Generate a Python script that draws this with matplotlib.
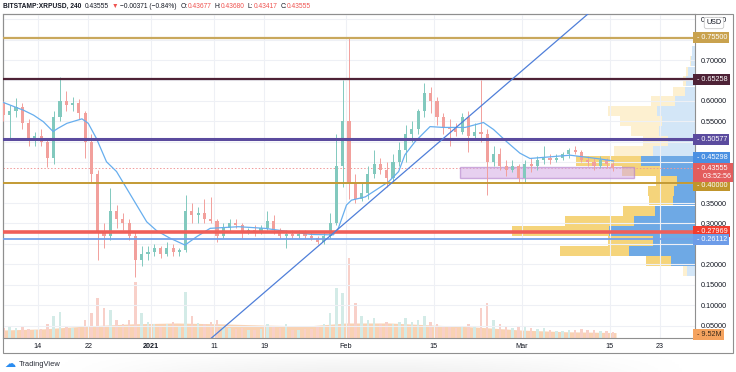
import matplotlib
matplotlib.use('Agg')
import matplotlib.pyplot as plt
import matplotlib.dates as mdates
import matplotlib.transforms as mtransforms
from matplotlib.patches import Rectangle
import numpy as np
import pandas as pd

plt.rcParams['font.family'] = ['Liberation Sans', 'DejaVu Sans']

# daily candles, Dec 8 2020 .. Mar 15 2021
days = pd.date_range('2020-12-08', '2021-03-15', freq='D')
opens = [0.595, 0.565, 0.575, 0.585, 0.545, 0.505, 0.515, 0.500, 0.460, 0.560, 0.600, 0.590,
         0.595, 0.570, 0.500, 0.420, 0.280, 0.270, 0.330, 0.310, 0.300, 0.270, 0.210, 0.225,
         # jan
         0.230, 0.240, 0.225, 0.240, 0.230, 0.235, 0.330, 0.320, 0.325, 0.310, 0.305, 0.270,
         0.290, 0.300, 0.295, 0.280, 0.285, 0.280, 0.290, 0.305, 0.285, 0.270, 0.275, 0.270,
         0.275, 0.270, 0.265, 0.255, 0.270, 0.300, 0.440,
         # feb
         0.550, 0.400, 0.360, 0.375, 0.420, 0.445, 0.430, 0.410, 0.450, 0.480, 0.520, 0.530,
         0.575, 0.620, 0.600, 0.560, 0.535, 0.530, 0.525, 0.560, 0.515, 0.525, 0.520, 0.450,
         0.470, 0.440, 0.430, 0.440,
         # mar
         0.410, 0.445, 0.440, 0.455, 0.460, 0.455, 0.460, 0.470, 0.480, 0.475, 0.455, 0.450,
         0.440, 0.455, 0.445]
highs = [0.600, 0.590, 0.607, 0.595, 0.555, 0.525, 0.530, 0.510, 0.575, 0.659, 0.625, 0.610,
         0.605, 0.575, 0.520, 0.430, 0.300, 0.387, 0.345, 0.325, 0.310, 0.280, 0.245, 0.245,
         0.250, 0.245, 0.255, 0.250, 0.240, 0.370, 0.350, 0.340, 0.360, 0.365, 0.310, 0.300,
         0.310, 0.310, 0.300, 0.290, 0.295, 0.295, 0.330, 0.320, 0.290, 0.285, 0.285, 0.285,
         0.285, 0.280, 0.270, 0.280, 0.325, 0.520, 0.650,
         0.757, 0.420, 0.400, 0.440, 0.480, 0.460, 0.450, 0.470, 0.500, 0.540, 0.550, 0.580,
         0.643, 0.635, 0.610, 0.570, 0.555, 0.545, 0.570, 0.575, 0.545, 0.651, 0.530, 0.490,
         0.485, 0.455, 0.455, 0.445,
         0.455, 0.460, 0.465, 0.490, 0.470, 0.470, 0.475, 0.485, 0.490, 0.480, 0.465, 0.460,
         0.465, 0.460, 0.450]
lows = [0.550, 0.505, 0.560, 0.530, 0.490, 0.490, 0.490, 0.438, 0.445, 0.550, 0.575, 0.575,
        0.555, 0.460, 0.400, 0.210, 0.240, 0.260, 0.290, 0.285, 0.260, 0.170, 0.195, 0.210,
        0.220, 0.215, 0.220, 0.220, 0.220, 0.230, 0.300, 0.300, 0.300, 0.300, 0.255, 0.265,
        0.280, 0.290, 0.265, 0.275, 0.270, 0.275, 0.285, 0.275, 0.265, 0.240, 0.265, 0.265,
        0.265, 0.260, 0.250, 0.250, 0.265, 0.295, 0.390,
        0.360, 0.350, 0.355, 0.360, 0.410, 0.420, 0.390, 0.400, 0.440, 0.450, 0.500, 0.520,
        0.560, 0.570, 0.540, 0.520, 0.490, 0.515, 0.520, 0.476, 0.510, 0.500, 0.370, 0.440,
        0.430, 0.415, 0.425, 0.398,
        0.400, 0.425, 0.430, 0.445, 0.445, 0.450, 0.455, 0.460, 0.470, 0.450, 0.440, 0.430,
        0.435, 0.435, 0.428]
closes = [0.565, 0.575, 0.585, 0.545, 0.505, 0.515, 0.500, 0.460, 0.560, 0.600, 0.590, 0.595,
          0.570, 0.500, 0.420, 0.280, 0.270, 0.330, 0.310, 0.300, 0.270, 0.210, 0.225, 0.230,
          0.240, 0.225, 0.240, 0.230, 0.235, 0.330, 0.320, 0.325, 0.310, 0.305, 0.270, 0.290,
          0.300, 0.295, 0.280, 0.285, 0.280, 0.290, 0.305, 0.285, 0.270, 0.275, 0.270, 0.275,
          0.270, 0.265, 0.255, 0.270, 0.300, 0.440, 0.550,
          0.400, 0.360, 0.375, 0.420, 0.445, 0.430, 0.410, 0.450, 0.480, 0.520, 0.530, 0.575,
          0.620, 0.600, 0.560, 0.535, 0.530, 0.525, 0.560, 0.515, 0.525, 0.520, 0.450, 0.470,
          0.440, 0.430, 0.440, 0.410,
          0.445, 0.440, 0.455, 0.460, 0.455, 0.460, 0.470, 0.480, 0.475, 0.455, 0.450, 0.440,
          0.455, 0.445, 0.43555]
# volume (millions)
volumes = [24, 29, 24, 29, 22, 19, 22, 34, 53, 62, 29, 24, 24, 43, 60, 96, 72, 67, 43, 34, 43, 134, 60, 38,
           34, 29, 34, 38, 29, 110, 53, 36, 34, 38, 43, 29, 24, 22, 24, 19, 19, 22, 34, 29, 24, 34,
           19, 19, 22, 22, 29, 34, 60, 120, 108,
           192, 84, 53, 43, 48, 34, 38, 34, 38, 48, 38, 43, 53, 38, 34, 29, 29, 24, 29, 34, 29, 72,
           84, 43, 34, 29, 24, 29,
           29, 24, 22, 24, 19, 17, 17, 19, 19, 22, 19, 19, 17, 17, 14]
vol_ma_days = [-6, 1, 8, 15, 22, 29, 36, 43, 49, 56, 63, 70, 77, 84, 92]
vol_ma = [19, 22, 29, 34, 36, 34, 31, 29, 36, 36, 31, 26, 19, 15, 13]

# moving average (days after Dec 14 2020, price)
ma_days = [-5.5, -2.3, -0.7, 0.85, 2.4, 3.2, 4.6, 7.0, 8.0, 9.3, 10.9, 12.5, 14.1, 15.7, 17.3,
           18.9, 21.0, 23.4, 25.3, 27.4, 31.9, 36.1, 39.9, 43.6, 47.0, 47.8, 49.1, 49.9, 52.1,
           55.8, 57.4, 58.4, 60.0, 62.4, 64.5, 68.0, 70.9, 72.5, 74.6, 76.7, 78.3, 81.5, 84.7,
           88.9, 91.6]
ma_vals = [0.596, 0.577, 0.565, 0.549, 0.525, 0.533, 0.545, 0.556, 0.545, 0.508, 0.451, 0.427,
           0.386, 0.345, 0.304, 0.282, 0.264, 0.247, 0.268, 0.288, 0.292, 0.288, 0.280, 0.273,
           0.272, 0.288, 0.345, 0.357, 0.365, 0.402, 0.427, 0.468, 0.500, 0.537, 0.535, 0.535,
           0.547, 0.530, 0.500, 0.472, 0.459, 0.463, 0.467, 0.459, 0.453]

# visible range volume profile (row price, up volume, down volume)
prof_prices = [0.722, 0.6976, 0.673, 0.6486, 0.624, 0.5997, 0.5752, 0.5507, 0.5262, 0.5018,
               0.4773, 0.4528, 0.4283, 0.4039, 0.3794, 0.355, 0.3304, 0.306, 0.2815, 0.257,
               0.2326, 0.208, 0.1836]
prof_up = [3, 4, 7, 9, 10, 20, 38, 33, 36, 27, 42, 54, 35, 18, 21, 22, 40, 61, 86, 42, 66, 24, 8]
prof_down = [0, 1, 2, 3, 12, 24, 49, 42, 28, 25, 39, 65, 38, 21, 26, 24, 32, 69, 97, 45, 69, 25, 4]
value_area = (0.196, 0.465)

# drawings
levels = [0.755, 0.65258, 0.50577, 0.40, 0.27969, 0.26112]
level_colors = ['#c9a85c', '#4e2236', '#5b4b9e', '#c39a34', '#ef5f5a', '#74a1ea']
level_widths = [1.6, 1.6, 2.2, 1.4, 2.6, 1.3]
trend_days = [28.17, 87.33]
trend_prices = [0.027, 0.810]
zone_days = [67.2, 94.9]
zone_prices = [0.4124, 0.4389]
last_price = 0.43555

fig = plt.figure(figsize=(7.36, 3.72), dpi=100)
fig.patch.set_facecolor('white')

# soft page shadow under the chart frame
sh = fig.add_axes([40 / 736, 0, 660 / 736, 18 / 372], zorder=0)
gx = np.linspace(-1, 1, 200)
gy = np.linspace(0, 1, 30)
shade = np.clip(1 - gx[None, :] ** 2, 0, 1) ** 1.5 * (1 - gy[:, None]) ** 0.7
sh.imshow(shade, cmap='Greys', vmin=0, vmax=9, aspect='auto', origin='lower', extent=(0, 1, 0, 1))
sh.axis('off')

ax = fig.add_axes([3 / 736, 34 / 372, 692 / 736, 324 / 372])
ax_v = ax.twinx()
ax_p = ax.twiny()
for a, z in ((ax_p, 1), (ax_v, 2), (ax, 3)):
    a.set_zorder(z)
    a.patch.set_visible(False)

d0 = mdates.date2num(pd.Timestamp('2020-12-14'))
x = mdates.date2num(days) + 0.5
o, h, l, c = map(np.array, (opens, highs, lows, closes))
up = c >= o
col = np.where(up, '#82c9be', '#f2a09c')

# volume pane
ax_v.fill_between(d0 + np.array(vol_ma_days), vol_ma, color='#f9d2b3', lw=0, zorder=1)
ax_v.bar(x, volumes, width=0.4, color=np.where(up, '#d3ebe7', '#f8d0c9'), zorder=2)
ax_v.set_ylim(0, 777.6)
ax_v.axis('off')

# volume profile
ax_p.set_xlim(692, 0)
pp = np.array(prof_prices)
in_va = (pp > value_area[0]) & (pp < value_area[1])
ax_p.barh(pp, prof_up, height=0.0222, left=0, color=np.where(in_va, '#6ea9e5', '#d3e6f7'), lw=0)
ax_p.barh(pp, prof_down, height=0.0222, left=prof_up, color=np.where(in_va, '#f5d47b', '#fdf0d0'), lw=0)
ax_p.axis('off')

# main price pane
ax.vlines(x, l, h, colors=col, lw=0.7, zorder=3)
ax.bar(x, np.maximum(np.abs(c - o), 0.002), bottom=np.minimum(o, c), width=0.5, color=col, zorder=3)
ax.plot(d0 + np.array(ma_days), ma_vals, color='#67aeee', lw=0.9, zorder=4)

for lv, lc, lw in zip(levels, level_colors, level_widths):
    ax.axhline(lv, color=lc, lw=lw, zorder=5)
ax.axhline(last_price, color='#f19a9a', lw=0.7, ls=(0, (1.5, 2)), zorder=2)
ax.axline((d0 + trend_days[0], trend_prices[0]), (d0 + trend_days[1], trend_prices[1]),
          color='#4f7fd9', lw=0.9, zorder=5)
ax.add_patch(Rectangle((d0 + zone_days[0], zone_prices[0]), zone_days[1] - zone_days[0],
                       zone_prices[1] - zone_prices[0], facecolor='#d7b2e6', alpha=0.6,
                       edgecolor='#b27fcb', lw=1, zorder=2))

ax.set_xlim(d0 - 5.57, d0 + 104.57)
ax.set_ylim(0.0196, 0.8126)

# axes, grid
tick_dates = ['2020-12-14', '2020-12-22', '2021-01-01', '2021-01-11', '2021-01-19',
              '2021-02-01', '2021-02-15', '2021-03-01', '2021-03-15', '2021-03-23']
tick_labels = ['14', '22', '2021', '11', '19', 'Feb', '15', 'Mar', '15', '23']
ax.set_xticks(mdates.date2num(pd.to_datetime(tick_dates)))
ax.set_xticklabels(tick_labels)
ax.get_xticklabels()[2].set_fontweight('bold')
y_ticks = np.round(np.arange(0.05, 0.81, 0.05), 2)
hidden = [0.25, 0.40, 0.45, 0.50, 0.65, 0.75]
ax.set_yticks(y_ticks)
ax.set_yticklabels(['' if t in hidden else f'{t:.5f}' for t in y_ticks])
ax.yaxis.tick_right()
ax.tick_params(axis='both', length=0, labelsize=5.2, colors='#131722')
ax.tick_params(axis='y', pad=3.8)
ax.tick_params(axis='x', pad=3.5)
ax.grid(True, color='#eef0f5', lw=0.8, zorder=0)
for s in ax.spines.values():
    s.set_color('#8f8f8f')
    s.set_linewidth(0.8)

# price scale labels (label position, text, colours); labels nudged apart like on the scale
tr = mtransforms.blended_transform_factory(ax.transAxes, ax.transData)
boxes = [(0.755, '0.75500', '#c9a24e'), (0.65258, '0.65258', '#4e2236'),
         (0.50577, '0.50577', '#5b4b9e'), (0.4614, '0.45298', '#4a90e2'),
         (0.3935, '0.40000', '#c0952c'), (0.27969, '0.27969', '#f23c2e'),
         (0.26112, '0.26112', '#6d9ce8')]
for val, txt, bg in boxes:
    ax.text(1.0, val, ' - ' + txt, transform=tr, fontsize=5.2, color='white', va='center', ha='left',
            bbox=dict(boxstyle='square,pad=0.28', fc=bg, ec='none'), clip_on=False, zorder=10)
ax.text(1.0, last_price - 0.0105, ' - 0.43555\n    03:52:56', transform=tr, fontsize=5.2, color='white',
        va='center', ha='left', linespacing=1.25,
        bbox=dict(boxstyle='square,pad=0.28', fc='#e35d5d', ec='none'), clip_on=False, zorder=10)
ax.text(1.0, 9.52, ' - 9.52M', transform=mtransforms.blended_transform_factory(ax.transAxes, ax_v.transData),
        fontsize=5.2, color='#3b2a1a', va='center', ha='left',
        bbox=dict(boxstyle='square,pad=0.28', fc='#f5a35f', ec='none'), clip_on=False, zorder=10)
fig.text(714 / 736, 1 - 23 / 372, 'USD', fontsize=5.2, color='#131722', ha='center', va='center',
         bbox=dict(boxstyle='round,pad=0.3', fc='white', ec='#c8c8c8', lw=0.6), zorder=10)

# outer frame
fig.add_artist(Rectangle((3 / 736, 1 - 353 / 372), 730 / 736, 339 / 372, transform=fig.transFigure,
                         fill=False, ec='#8f8f8f', lw=0.8))

# header, pieces laid out one after another
renderer = fig.canvas.get_renderer()
hy = 1 - 6.5 / 372
parts = [('BITSTAMP:XRPUSD, 240', '#131722', 'bold', 3), ('0.43555', '#131722', 'normal', 3),
         ('▼', '#ef5350', 'normal', 2), ('−0.00371 (−0.84%)', '#131722', 'normal', 4),
         ('O:', '#131722', 'normal', 0), ('0.43677', '#ef5350', 'normal', 3),
         ('H:', '#131722', 'normal', 0), ('0.43680', '#ef5350', 'normal', 3),
         ('L:', '#131722', 'normal', 0), ('0.43417', '#ef5350', 'normal', 3),
         ('C:', '#131722', 'normal', 0), ('0.43555', '#ef5350', 'normal', 0)]
xpos = 3
for s, cc, fw, gap in parts:
    t = fig.text(xpos / 736, hy, s, fontsize=4.8, color=cc, fontweight=fw, va='center', ha='left')
    xpos = t.get_window_extent(renderer=renderer).x1 + gap

# logo
fig.text(4 / 736, 1 - 364 / 372, '☁', fontsize=8, color='#2a8cf0', va='center', ha='left',
         family='DejaVu Sans')
fig.text(19 / 736, 1 - 364 / 372, 'TradingView', fontsize=5.4, color='#2a2e39', va='center', ha='left')

fig.savefig('out.png', dpi=100, facecolor='white')
